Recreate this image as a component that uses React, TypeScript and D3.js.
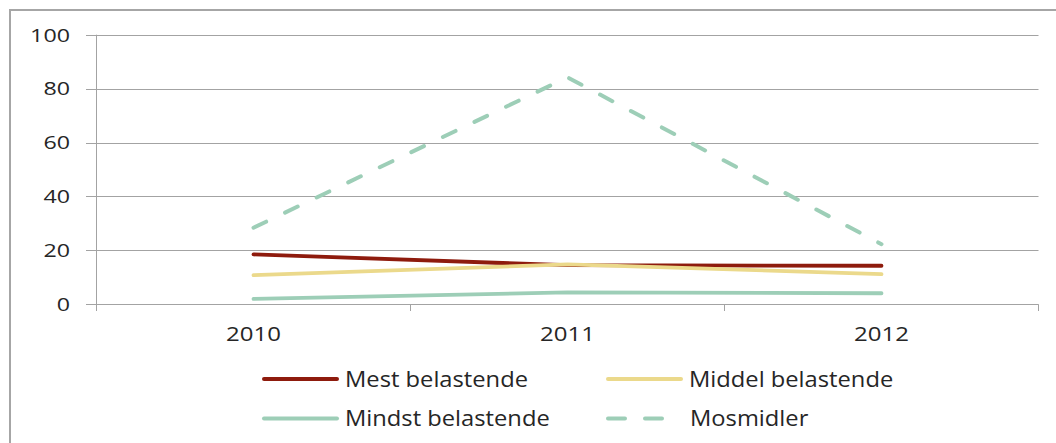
import React from "react";
import * as d3 from "d3";

const categories = ["2010", "2011", "2012"];
const yTicks = [0, 20, 40, 60, 80, 100];
const mestBelastende = [18.5, 14.5, 14.3];
const middelBelastende = [10.8, 14.8, 11.2];
const mindstBelastende = [2.0, 4.4, 4.1];
const mosmidler = [28.4, 84.2, 22.3];

const seriesList = [
  { name: "Mest belastende", values: mestBelastende, color: "#8E1B0D", dashed: false },
  { name: "Middel belastende", values: middelBelastende, color: "#EBD98B", dashed: false },
  { name: "Mindst belastende", values: mindstBelastende, color: "#9DCEB7", dashed: false },
  { name: "Mosmidler", values: mosmidler, color: "#9DCEB7", dashed: true },
];

const W = 1056;
const H = 443;
const plotLeft = 96.5;
const plotRight = 1038.5;
const plotTop = 34.7;
const plotBottom = 304.3;
const FONT = "'Open Sans', 'DejaVu Sans', sans-serif";
const TEXT = "#262626";
const GRID = "#A3A3A3";

export default function App() {
  const x = d3.scaleBand<string>().domain(categories).range([plotLeft, plotRight]);
  const y = d3.scaleLinear().domain([0, 100]).range([plotBottom, plotTop]);
  const line = d3
    .line<number>()
    .x((_, i) => (x(categories[i]) as number) + x.bandwidth() / 2)
    .y((v) => y(v));

  const boundaries = [...categories.map((c) => x(c) as number), plotRight];

  const legendItems = [
    { s: seriesList[0], lx: 264, ly: 379 },
    { s: seriesList[1], lx: 608, ly: 379 },
    { s: seriesList[2], lx: 264, ly: 418.5 },
    { s: seriesList[3], lx: 608, ly: 418.5 },
  ];

  return (
    <svg
      width={W}
      height={H}
      style={{ position: "absolute", left: 0, top: 0, background: "#fff" }}
    >
      <rect x={10} y={10} width={W + 20} height={H + 20} fill="#fff" stroke="#A6A6A6" strokeWidth={2} />
      {/* gridlines */}
      {yTicks.map((t) => (
        <line
          key={"g" + t}
          x1={86}
          x2={plotRight}
          y1={Math.round(y(t)) + 0.5}
          y2={Math.round(y(t)) + 0.5}
          stroke={GRID}
          strokeWidth={1}
        />
      ))}
      {/* y axis */}
      <line x1={plotLeft} x2={plotLeft} y1={plotTop} y2={311} stroke={GRID} strokeWidth={1} />
      {/* x ticks */}
      {boundaries.map((b, i) => (
        <line key={"t" + i} x1={b} x2={b} y1={plotBottom} y2={311} stroke={GRID} strokeWidth={1} />
      ))}
      {/* y labels */}
      {yTicks.map((t) => (
        <text
          key={"yl" + t}
          transform={`translate(70,${y(t) + 6.8}) scale(1.25,1)`}
          textAnchor="end"
          fontFamily={FONT}
          fontSize={18.6}
          fill={TEXT}
        >
          {t}
        </text>
      ))}
      {/* x labels */}
      {categories.map((c) => (
        <text
          key={"xl" + c}
          transform={`translate(${(x(c) as number) + x.bandwidth() / 2},341) scale(1.2,1)`}
          textAnchor="middle"
          fontFamily={FONT}
          fontSize={20}
          fill={TEXT}
        >
          {c}
        </text>
      ))}
      {/* series */}
      {seriesList.map((s) => (
        <path
          key={s.name}
          d={line(s.values) || ""}
          fill="none"
          stroke={s.color}
          strokeWidth={s.dashed ? 4 : 3.8}
          strokeLinecap="round"
          strokeLinejoin="round"
          strokeDasharray={s.dashed ? "14 21" : undefined}
        />
      ))}
      {/* legend */}
      {legendItems.map(({ s, lx, ly }) => (
        <g key={"lg" + s.name}>
          <line
            x1={lx}
            x2={lx + 73}
            y1={ly}
            y2={ly}
            stroke={s.color}
            strokeWidth={4}
            strokeLinecap="round"
            strokeDasharray={s.dashed ? "17 20" : undefined}
          />
          <text
            transform={`translate(${lx + (s.dashed ? 82 : 81)},${ly + 7.8}) scale(1.13,1)`}
            fontFamily={FONT}
            fontSize={21}
            fill={TEXT}
          >
            {s.name}
          </text>
        </g>
      ))}
    </svg>
  );
}
